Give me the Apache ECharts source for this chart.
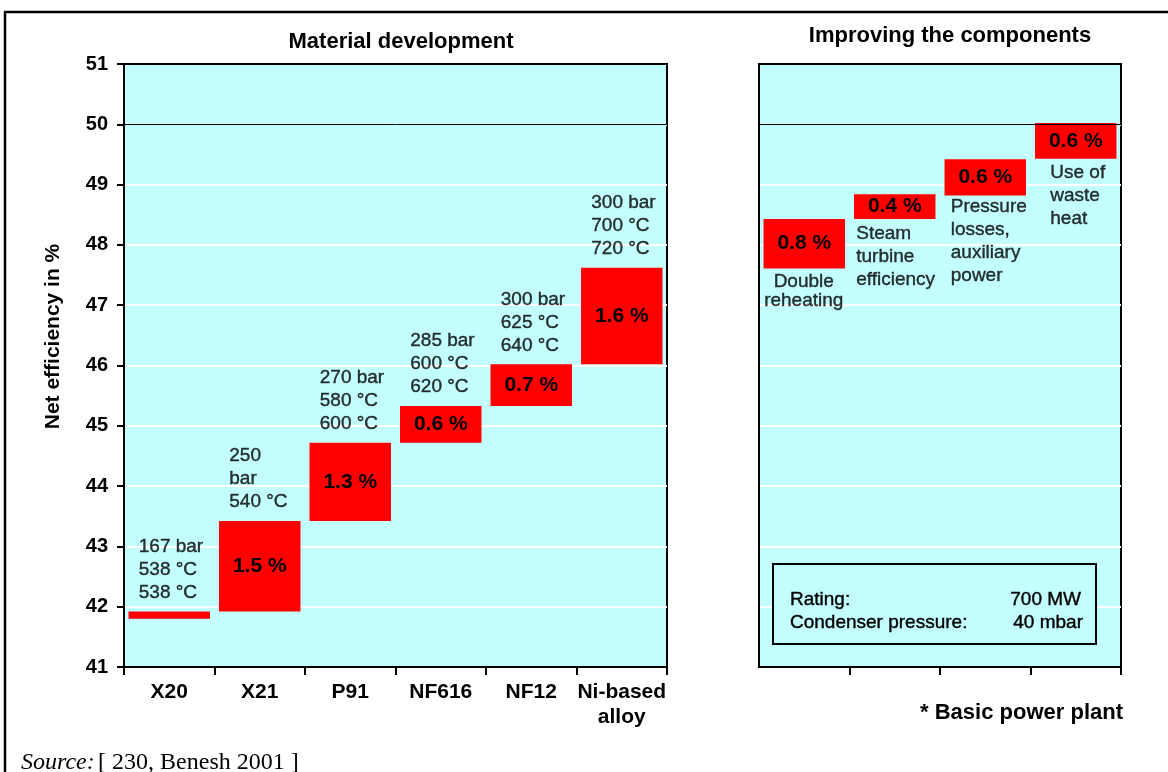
<!DOCTYPE html>
<html><head><meta charset="utf-8">
<script src="https://cdn.jsdelivr.net/npm/echarts@6/dist/echarts.min.js"></script>
<style>html,body{margin:0;padding:0;background:#fff}#c{width:1168px;height:772px}</style>
</head><body><div id="c"></div><script>
// ---- data ----
const materials = ['X20', 'X21', 'P91', 'NF616', 'NF12', 'Ni-based\nalloy'];
const materialStart = [41.80, 41.92, 43.42, 44.72, 45.33, 46.02];
const materialGain = [0.12, 1.50, 1.30, 0.61, 0.69, 1.60];
const materialGainLabels = ['', '1.5 %', '1.3 %', '0.6 %', '0.7 %', '1.6 %'];
const materialConditions = [
  '167 bar\n538 °C\n538 °C',
  '250\nbar\n540 °C',
  '270 bar\n580 °C\n600 °C',
  '285 bar\n600 °C\n620 °C',
  '300 bar\n625 °C\n640 °C',
  '300 bar\n700 °C\n720 °C'
];
const components = ['Double reheating', 'Steam turbine efficiency', 'Pressure losses, auxiliary power', 'Use of waste heat'];
const componentLabels = ['Double\nreheating', 'Steam\nturbine\nefficiency', 'Pressure\nlosses,\nauxiliary\npower', 'Use of\nwaste\nheat'];
const componentStart = [47.61, 48.43, 48.82, 49.43];
const componentGain = [0.82, 0.41, 0.60, 0.59];
const componentGainLabels = ['0.8 %', '0.4 %', '0.6 %', '0.6 %'];
const yMin = 41, yMax = 51, yStep = 1;
const baseLineValue = 50;
const titles = ['Material development', 'Improving the components'];
const yName = 'Net efficiency in %';
const infoRows = [['Rating:', '700 MW'], ['Condenser pressure:', '40 mbar']];
const footnote = '* Basic power plant';

// ---- styles ----
const FONT = '"Liberation Sans", Arial, Helvetica, sans-serif';
const BG = '#c4ffff';
const RED = '#ff0000';
const compLabelStyle = [
  {position: [0, 4], align: 'center', lineHeight: 19},
  {position: [-38, 4], align: 'left', lineHeight: 23},
  {position: [-34, 0], align: 'left', lineHeight: 23},
  {position: [-25, 3], align: 'left', lineHeight: 23}
];
const nTicks = Math.round((yMax - yMin) / yStep) + 1;
const splitColors = [];
for (let i = 0; i < nTicks; i++) {
  const v = yMin + i * yStep;
  splitColors.push(v === baseLineValue ? BG : (v === yMin || v === yMax ? '#000' : '#ffffff'));
}

function yAxisCfg(idx, showLabels) {
  return {
    type: 'value', gridIndex: idx, min: yMin, max: yMax, interval: yStep,
    name: showLabels ? yName : '',
    nameLocation: 'middle', nameGap: 60, nameRotate: 90,
    nameTextStyle: {fontFamily: FONT, fontWeight: 'bold', fontSize: 21, color: '#000', padding: [0, 0, 0, 58]},
    axisLine: {show: true, lineStyle: {color: '#000', width: 2}},
    axisTick: {show: showLabels, length: 7, lineStyle: {color: '#000', width: 2}},
    axisLabel: {show: showLabels, margin: 16, fontFamily: FONT, fontWeight: 'bold', fontSize: 20, color: '#000'},
    splitLine: {show: true, lineStyle: {color: splitColors, width: 2}}
  };
}
function xAxisCfg(idx, data, showLabels) {
  return {
    type: 'category', gridIndex: idx, data: data,
    axisLine: {show: true, lineStyle: {color: '#000', width: 2}},
    axisTick: {show: true, length: 8, lineStyle: {color: '#000', width: 2},
      interval: showLabels ? 0 : function (i) { return i !== 0; }},
    axisLabel: {show: showLabels, margin: 13, fontFamily: FONT, fontWeight: 'bold', fontSize: 21, color: '#000', lineHeight: 25, interval: 0},
    splitLine: {show: false}
  };
}
const baseLineMark = {
  silent: true, symbol: 'none', label: {show: false},
  lineStyle: {color: '#000', width: 1, type: 'solid'},
  data: [{yAxis: baseLineValue}]
};
const gainLabel = (arr) => ({
  show: true, position: 'inside', color: '#000', fontFamily: FONT, fontWeight: 'bold', fontSize: 21,
  formatter: p => arr[p.dataIndex]
});
const thinText = {fontFamily: FONT, fontSize: 19, color: '#000', textBorderColor: '#000', textBorderWidth: 0.4};

const option = {
  animation: false,
  backgroundColor: '#fff',
  grid: [
    {left: 124, top: 64, right: 501, bottom: 105, show: true, backgroundColor: BG, borderColor: '#000', borderWidth: 2},
    {left: 759, top: 64, right: 47, bottom: 105, show: true, backgroundColor: BG, borderColor: '#000', borderWidth: 2}
  ],
  xAxis: [xAxisCfg(0, materials, true), xAxisCfg(1, components, false)],
  yAxis: [yAxisCfg(0, true), yAxisCfg(1, false)],
  series: [
    {type: 'bar', xAxisIndex: 0, yAxisIndex: 0, stack: 'm', barWidth: '90%', silent: true,
      itemStyle: {color: 'rgba(0,0,0,0)'}, data: materialStart, markLine: baseLineMark},
    {type: 'bar', xAxisIndex: 0, yAxisIndex: 0, stack: 'm', barWidth: '90%',
      itemStyle: {color: RED}, label: gainLabel(materialGainLabels), data: materialGain},
    {type: 'scatter', xAxisIndex: 0, yAxisIndex: 0, symbolSize: 1, silent: true,
      itemStyle: {color: 'rgba(0,0,0,0)'},
      label: Object.assign({show: true, position: [-30, -7], align: 'left', verticalAlign: 'bottom', lineHeight: 23,
        formatter: p => materialConditions[p.dataIndex]}, thinText),
      data: materials.map((m, i) => [i, +(materialStart[i] + materialGain[i]).toFixed(2)])},
    {type: 'bar', xAxisIndex: 1, yAxisIndex: 1, stack: 'c', barWidth: '90%', silent: true,
      itemStyle: {color: 'rgba(0,0,0,0)'}, data: componentStart, markLine: baseLineMark},
    {type: 'bar', xAxisIndex: 1, yAxisIndex: 1, stack: 'c', barWidth: '90%',
      itemStyle: {color: RED}, label: gainLabel(componentGainLabels), data: componentGain},
    {type: 'scatter', xAxisIndex: 1, yAxisIndex: 1, symbolSize: 1, silent: true,
      itemStyle: {color: 'rgba(0,0,0,0)'},
      data: components.map((c, i) => ({
        value: [i, componentStart[i]],
        label: Object.assign({show: true, position: compLabelStyle[i].position, align: compLabelStyle[i].align,
          verticalAlign: 'top', lineHeight: compLabelStyle[i].lineHeight, formatter: componentLabels[i]}, thinText)
      }))}
  ],
  graphic: [
    {type: 'line', z: 100, shape: {x1: 4, y1: 12, x2: 1168, y2: 12}, style: {stroke: '#000', lineWidth: 2.5}},
    {type: 'line', z: 100, shape: {x1: 5, y1: 11, x2: 5, y2: 772}, style: {stroke: '#000', lineWidth: 2.5}},
    {type: 'text', z: 100, x: 401, y: 42, style: {text: titles[0], font: 'bold 22px ' + FONT, fill: '#000', textAlign: 'center', textVerticalAlign: 'middle'}},
    {type: 'text', z: 100, x: 950, y: 36, style: {text: titles[1], font: 'bold 22px ' + FONT, fill: '#000', textAlign: 'center', textVerticalAlign: 'middle'}},
    {type: 'rect', z: 100, shape: {x: 773, y: 564, width: 323, height: 80}, style: {fill: BG, stroke: '#000', lineWidth: 2}},
    {type: 'text', z: 101, x: 790, y: 600, style: {text: infoRows[0][0], font: '19px ' + FONT, fill: '#000', stroke: '#000', lineWidth: 0.4, textAlign: 'left', textVerticalAlign: 'middle'}},
    {type: 'text', z: 101, x: 1081, y: 600, style: {text: infoRows[0][1], font: '19px ' + FONT, fill: '#000', stroke: '#000', lineWidth: 0.4, textAlign: 'right', textVerticalAlign: 'middle'}},
    {type: 'text', z: 101, x: 790, y: 623, style: {text: infoRows[1][0], font: '19px ' + FONT, fill: '#000', stroke: '#000', lineWidth: 0.4, textAlign: 'left', textVerticalAlign: 'middle'}},
    {type: 'text', z: 101, x: 1083, y: 623, style: {text: infoRows[1][1], font: '19px ' + FONT, fill: '#000', stroke: '#000', lineWidth: 0.4, textAlign: 'right', textVerticalAlign: 'middle'}},
    {type: 'text', z: 100, x: 1123, y: 713, style: {text: footnote, font: 'bold 22px ' + FONT, fill: '#000', textAlign: 'right', textVerticalAlign: 'middle'}},
    {type: 'text', z: 100, x: 21, y: 763, style: {
      text: '{i|Source:} {r|[ 230, Benesh 2001 ]}', textVerticalAlign: 'middle', textAlign: 'left',
      rich: {
        i: {fontFamily: '"Liberation Serif", "Times New Roman", serif', fontStyle: 'italic', fontSize: 24, fill: '#000'},
        r: {fontFamily: '"Liberation Serif", "Times New Roman", serif', fontSize: 24, fill: '#000'}
      }}}
  ]
};
const chart = echarts.init(document.getElementById('c'), null, {renderer: 'canvas'});
chart.setOption(option);
</script></body></html>
